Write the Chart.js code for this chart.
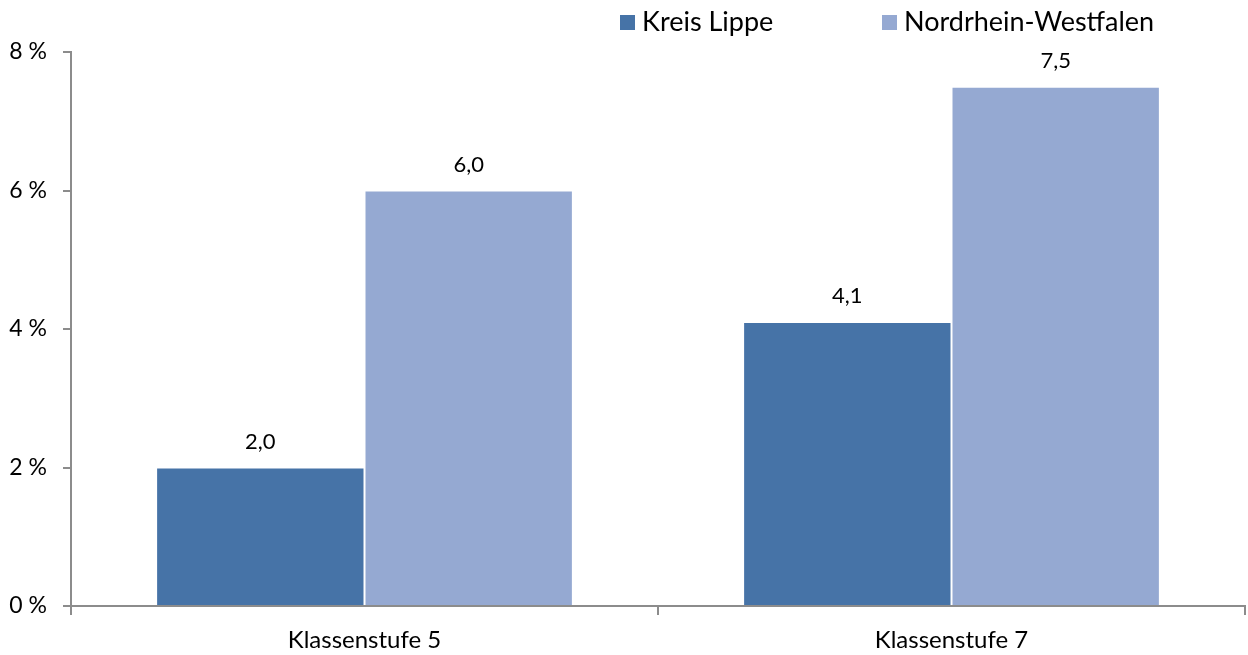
<!DOCTYPE html>
<html>
<head>
<meta charset="utf-8">
<script src="https://cdn.jsdelivr.net/npm/chart.js@4"></script>
<style>
  body { margin: 0; background: #fff; }
  #wrap { width: 1248px; height: 655px; }
</style>
</head>
<body>
<div id="wrap"><canvas id="chart" width="1248" height="655"></canvas></div>
<script>
const categories = ['Klassenstufe 5', 'Klassenstufe 7'];
const seriesNames = ['Kreis Lippe', 'Nordrhein-Westfalen'];
const kreisLippe = [2.0, 4.1];
const nrw = [6.0, 7.5];
const yTicks = [0, 2, 4, 6, 8];

const FONT = 'Lato, "Open Sans", sans-serif';

// values above each bar, German decimal comma
const valueLabels = {
    id: 'valueLabels',
    afterDatasetsDraw(chart) {
        const ctx = chart.ctx;
        ctx.save();
        ctx.font = '22px ' + FONT;
        ctx.fillStyle = '#000';
        ctx.textAlign = 'center';
        ctx.textBaseline = 'middle';
        chart.data.datasets.forEach((ds, i) => {
            chart.getDatasetMeta(i).data.forEach((bar, j) => {
                const txt = ds.data[j].toFixed(1).replace('.', ',');
                ctx.fillText(txt, bar.x, bar.y - 26);
            });
        });
        ctx.restore();
    }
};

// legend in the top right corner
const topLegend = {
    id: 'topLegend',
    afterDraw(chart) {
        const ctx = chart.ctx;
        ctx.save();
        ctx.font = '27px ' + FONT;
        ctx.textBaseline = 'middle';
        ctx.textAlign = 'left';
        const starts = [620, 882];
        chart.data.datasets.forEach((ds, i) => {
            const x = starts[i];
            ctx.fillStyle = ds.backgroundColor;
            ctx.fillRect(x, 15, 15, 15);
            ctx.fillStyle = '#000';
            ctx.fillText(ds.label, x + 22, 22);
        });
        ctx.restore();
    }
};

const ctx = document.getElementById('chart').getContext('2d');
new Chart(ctx, {
    type: 'bar',
    data: {
        labels: categories,
        datasets: [
            {
                label: seriesNames[0],
                data: kreisLippe,
                backgroundColor: '#4673a7',
                borderColor: '#ffffff',
                borderWidth: 1,
                categoryPercentage: 0.71,
                barPercentage: 1
            },
            {
                label: seriesNames[1],
                data: nrw,
                backgroundColor: '#95a9d2',
                borderColor: '#ffffff',
                borderWidth: 1,
                categoryPercentage: 0.71,
                barPercentage: 1
            }
        ]
    },
    options: {
        responsive: false,
        animation: false,
        layout: { padding: { top: 52, right: 3, left: 0, bottom: 0 } },
        plugins: {
            legend: { display: false },
            tooltip: { enabled: false }
        },
        scales: {
            x: {
                grid: {
                    offset: true,
                    drawOnChartArea: false,
                    drawTicks: true,
                    tickLength: 9,
                    color: '#8c8c8c',
                    lineWidth: 2
                },
                border: { display: true, color: '#8c8c8c', width: 2 },
                ticks: {
                    color: '#000',
                    font: { family: FONT, size: 24 },
                    padding: 11
                },
                afterFit(scale) { scale.height = 49; }
            },
            y: {
                min: 0,
                max: 8,
                afterBuildTicks(scale) {
                    scale.ticks = yTicks.map(v => ({ value: v }));
                },
                grid: {
                    drawOnChartArea: false,
                    drawTicks: true,
                    tickLength: 8,
                    color: '#8c8c8c',
                    lineWidth: 2
                },
                border: { display: true, color: '#8c8c8c', width: 2 },
                ticks: {
                    color: '#000',
                    font: { family: FONT, size: 23 },
                    padding: 16,
                    callback: v => v + ' %'
                },
                afterFit(scale) { scale.width = 71; }
            }
        }
    },
    plugins: [valueLabels, topLegend]
});
</script>
</body>
</html>
